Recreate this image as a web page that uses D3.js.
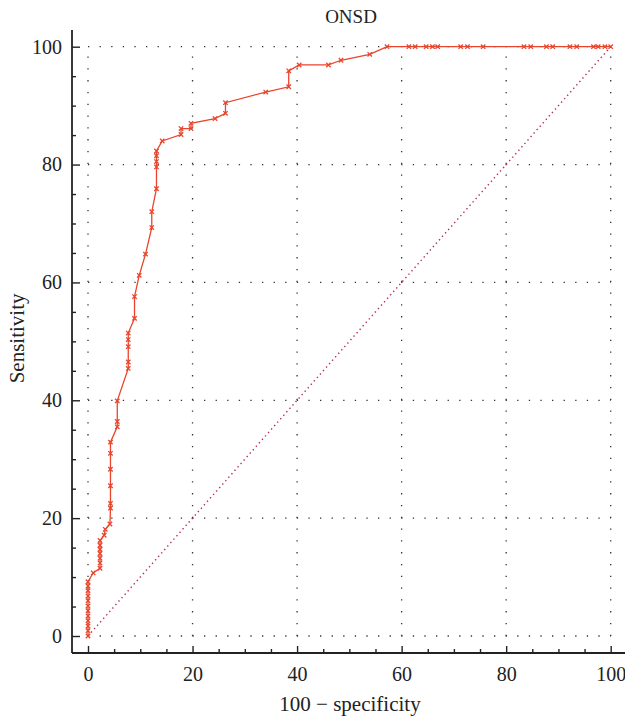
<!DOCTYPE html>
<html>
<head>
<meta charset="utf-8">
<script src="https://cdn.jsdelivr.net/npm/d3@7"></script>
<style>
  html, body { margin: 0; padding: 0; background: #fff; }
  svg text { font-family: "Liberation Serif", "Times New Roman", serif; fill: #222; }
</style>
</head>
<body>
<div id="app"></div>
<script>
(function (d3) {
  'use strict'

  // ROC points, 100 - specificity vs sensitivity
  const fpr = [0, 0, 0, 0, 0, 0, 0, 0, 0, 0, 0, 0,
    1.0, 2.3, 2.3, 2.3, 2.3, 2.3, 2.3, 2.3,
    3.1, 3.3, 4.2, 4.3, 4.3, 4.3, 4.3, 4.3, 4.3,
    5.6, 5.6, 5.6,
    7.7, 7.7, 7.7, 7.7, 7.7,
    8.9, 8.9, 9.8, 11.0, 12.2, 12.2,
    13.1, 13.1, 13.1, 13.1, 13.1,
    14.2, 17.8, 17.8, 19.7, 19.7,
    24.3, 26.3, 26.3, 34.0, 38.4, 38.4,
    40.4, 46.0, 48.4, 53.9, 57.2,
    61.4, 62.6, 64.7, 65.9, 66.9, 71.3, 72.6, 75.6, 83.4, 84.7,
    87.7, 88.9, 92.2, 93.5, 96.7, 97.6, 98.9, 100]
  const sens = [0, 0.9, 1.7, 2.6, 3.4, 4.3, 5.1, 6.0, 6.8, 7.7, 8.5, 9.2,
    10.7, 11.5, 12.4, 13.2, 14.0, 14.7, 15.4, 16.2,
    17.1, 18.1, 19.0, 21.7, 22.5, 25.5, 28.3, 31.0, 32.9,
    35.5, 36.4, 39.9,
    45.4, 46.5, 49.1, 50.3, 51.4,
    53.9, 57.6, 61.2, 64.8, 69.3, 72.0,
    75.9, 79.6, 80.5, 81.5, 82.3,
    84.0, 85.1, 86.1, 86.1, 87.0,
    87.8, 88.7, 90.5, 92.3, 93.2, 95.9,
    96.9, 96.9, 97.7, 98.7, 100,
    100, 100, 100, 100, 100, 100, 100, 100, 100, 100,
    100, 100, 100, 100, 100, 100, 100, 100]

  const majorTicks = [0, 20, 40, 60, 80, 100]
  const minorTicks = [5, 10, 15, 25, 30, 35, 45, 50, 55, 65, 70, 75, 85, 90, 95]
  const diagonal = [0, 100]

  const title = 'ONSD'
  const xTitle = '100 \u2212 specificity'
  const yTitle = 'Sensitivity'

  const width = 625
  const height = 716

  const x = d3.scaleLinear().domain([0, 100]).range([88, 610.7])
  const y = d3.scaleLinear().domain([0, 100]).range([636, 46.7])
  const frameX = x.invert(72)
  const frameY = y.invert(653)
  const frameTop = y.invert(30)
  const frameRight = x.invert(625)

  const svg = d3.select('#app')
                .append('svg')
                .attr('width', width)
                .attr('height', height)

  // dotted grid
  const grid = svg.append('g')
  grid.selectAll('.gx')
      .data(majorTicks)
      .enter()
      .append('line')
      .attr('x1', d => x(d)).attr('x2', d => x(d))
      .attr('y1', y(0)).attr('y2', y(100))
      .style('stroke', '#333')
      .style('stroke-width', 1.3)
      .style('stroke-dasharray', '1.3 10.5')
  grid.selectAll('.gy')
      .data(majorTicks)
      .enter()
      .append('line')
      .attr('y1', d => y(d)).attr('y2', d => y(d))
      .attr('x1', x(0)).attr('x2', x(100))
      .style('stroke', '#333')
      .style('stroke-width', 1.3)
      .style('stroke-dasharray', '1.3 10.3')

  // reference diagonal
  svg.append('line')
     .attr('x1', x(diagonal[0])).attr('y1', y(diagonal[0]))
     .attr('x2', x(diagonal[1])).attr('y2', y(diagonal[1]))
     .style('stroke', '#b5305a')
     .style('stroke-width', 1.4)
     .style('stroke-dasharray', '1.4 3.2')

  // axes
  const yAxisMajor = d3.axisLeft(y).tickValues(majorTicks).tickSize(-8).tickPadding(10)
  const yAxisMinor = d3.axisLeft(y).tickValues(minorTicks).tickSize(-4).tickFormat('')
  const xAxisMajor = d3.axisBottom(x).tickValues(majorTicks).tickSize(-7).tickPadding(14)
  const xAxisMinor = d3.axisBottom(x).tickValues(minorTicks).tickSize(-4).tickFormat('')

  const styleAxis = function (g) {
    g.select('.domain').remove()
    g.selectAll('line').style('stroke', '#222').style('stroke-width', 1.4)
    g.selectAll('text').style('font-size', '20px').style('font-family', '"Liberation Serif", serif').style('fill', '#222')
  }

  svg.append('g').attr('transform', 'translate(' + x(frameX) + ',0)').call(yAxisMajor).call(styleAxis)
  svg.append('g').attr('transform', 'translate(' + x(frameX) + ',0)').call(yAxisMinor).call(styleAxis)
  svg.append('g').attr('transform', 'translate(0,' + y(frameY) + ')').call(xAxisMajor).call(styleAxis)
  svg.append('g').attr('transform', 'translate(0,' + y(frameY) + ')').call(xAxisMinor).call(styleAxis)

  svg.append('line')
     .attr('x1', x(frameX)).attr('x2', x(frameX))
     .attr('y1', y(frameY)).attr('y2', y(frameTop))
     .style('stroke', '#222').style('stroke-width', 1.8)
  svg.append('line')
     .attr('x1', x(frameX)).attr('x2', x(frameRight))
     .attr('y1', y(frameY)).attr('y2', y(frameY))
     .style('stroke', '#222').style('stroke-width', 1.8)

  // ROC curve
  const pts = fpr.map((f, i) => [f, sens[i]])
  const line = d3.line().x(d => x(d[0])).y(d => y(d[1]))
  svg.append('path')
     .datum(pts)
     .attr('d', line)
     .style('fill', 'none')
     .style('stroke', '#e8452c')
     .style('stroke-width', 1.3)

  const m = 2.2
  svg.selectAll('.mark')
     .data(pts)
     .enter()
     .append('path')
     .attr('class', 'mark')
     .attr('transform', d => 'translate(' + x(d[0]) + ',' + y(d[1]) + ')')
     .attr('d', 'M' + (-m) + ',' + (-m) + 'L' + m + ',' + m + 'M' + (-m) + ',' + m + 'L' + m + ',' + (-m))
     .style('stroke', '#e8452c')
     .style('stroke-width', 1.3)
     .style('fill', 'none')

  // titles
  svg.append('text')
     .attr('x', 351).attr('y', 23)
     .attr('text-anchor', 'middle')
     .style('font-size', '19px')
     .text(title)
  svg.append('text')
     .attr('x', 350).attr('y', 711)
     .attr('text-anchor', 'middle')
     .style('font-size', '21px')
     .text(xTitle)
  svg.append('text')
     .attr('transform', 'translate(24,' + y(50.5) + ') rotate(-90)')
     .attr('text-anchor', 'middle')
     .style('font-size', '21px')
     .text(yTitle)

})(d3)
</script>
</body>
</html>
